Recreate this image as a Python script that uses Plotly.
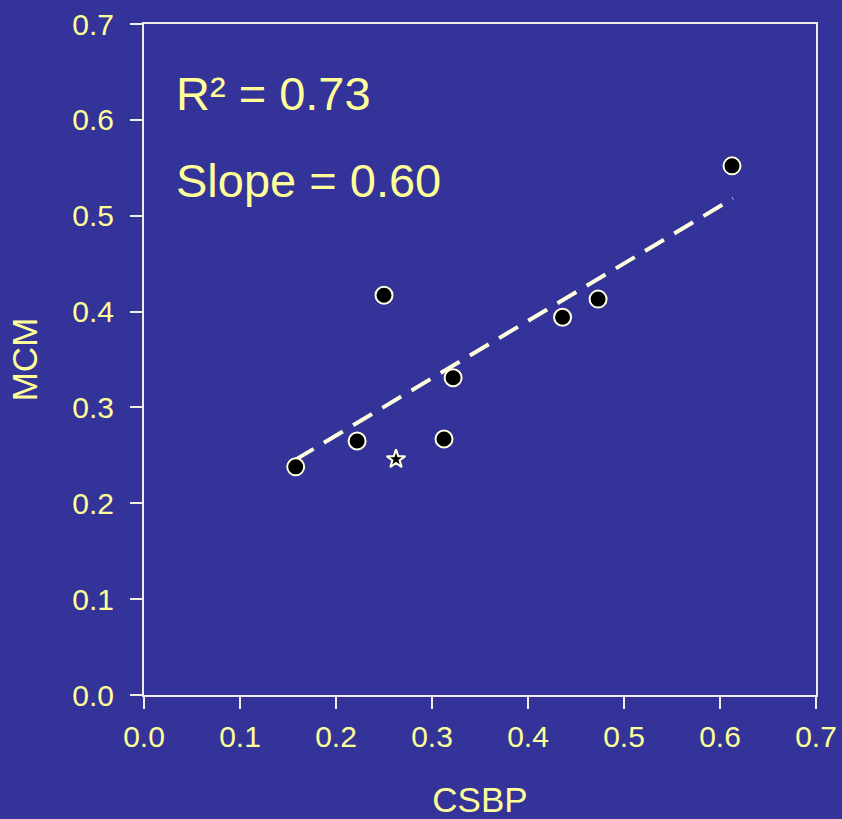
import plotly.graph_objects as go

# Data
csbp = [0.158, 0.222, 0.250, 0.3125, 0.322, 0.436, 0.473, 0.6125]
mcm = [0.238, 0.265, 0.417, 0.267, 0.331, 0.394, 0.413, 0.552]
star_x = [0.2625]
star_y = [0.246]
fit_x = [0.157, 0.6135]
fit_y = [0.245, 0.518]
ticks = [0.0, 0.1, 0.2, 0.3, 0.4, 0.5, 0.6, 0.7]
tick_text = ["0.0", "0.1", "0.2", "0.3", "0.4", "0.5", "0.6", "0.7"]

BG = "#333399"
TXT = "#FFFF99"
LINE = "#EEEEE6"
CREAM = "#FFFFE0"
FONT = "Liberation Sans, Arial, sans-serif"

fig = go.Figure()
fig.add_trace(go.Scatter(x=fit_x, y=fit_y, mode="lines",
                         line=dict(color=CREAM, width=4, dash="22px,12px"),
                         hoverinfo="skip", showlegend=False))
fig.add_trace(go.Scatter(x=csbp, y=mcm, mode="markers",
                         marker=dict(symbol="circle", size=17, color="black",
                                     line=dict(color=CREAM, width=2)),
                         showlegend=False))
fig.add_trace(go.Scatter(x=star_x, y=star_y, mode="markers",
                         marker=dict(symbol="star", size=14, color="black",
                                     line=dict(color=CREAM, width=2)),
                         showlegend=False))

axis_common = dict(range=[0, 0.7], tickvals=ticks, ticktext=tick_text,
                   showline=True, linecolor=LINE, linewidth=2, mirror=True,
                   ticks="outside", ticklen=12, tickwidth=2, tickcolor=LINE,
                   showgrid=False, zeroline=False, automargin=False,
                   tickfont=dict(family=FONT, size=30, color=TXT))

fig.update_xaxes(**axis_common, ticklabelstandoff=2,
                 title=dict(text="CSBP", font=dict(family=FONT, size=35, color=TXT), standoff=38))
fig.update_yaxes(**axis_common, ticklabelstandoff=10,
                 title=dict(text="MCM", font=dict(family=FONT, size=35, color=TXT), standoff=24))

fig.add_annotation(x=0.031, y=0.627, xref="x", yref="y", xanchor="left", yanchor="middle",
                   text="R² = 0.73", showarrow=False,
                   font=dict(family=FONT, size=47, color=TXT))
fig.add_annotation(x=0.031, y=0.537, xref="x", yref="y", xanchor="left", yanchor="middle",
                   text="Slope = 0.60", showarrow=False,
                   font=dict(family=FONT, size=47, color=TXT))

fig.update_layout(width=842, height=819, paper_bgcolor=BG, plot_bgcolor=BG,
                  margin=dict(l=144, r=26, t=24, b=124, autoexpand=False), showlegend=False)

fig.write_html("out.html", config={"displayModeBar": False},
               post_script="document.body.style.margin='0';document.body.style.background='#333399';")
